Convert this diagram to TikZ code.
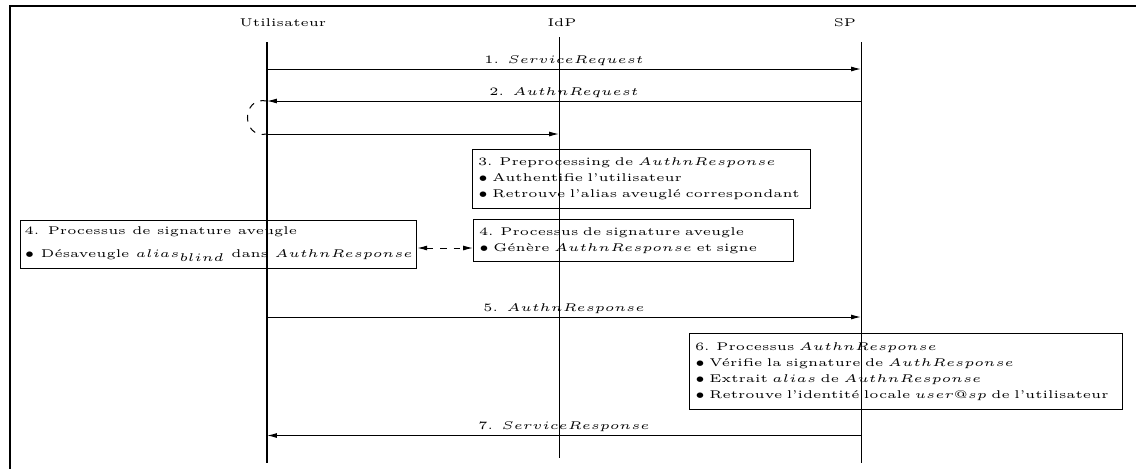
\documentclass[tikz,border=0pt]{standalone}
\usetikzlibrary{arrows.meta}
\def\pxu{0.444pt}
\def\wide{1.2}
\begin{document}
\begin{tikzpicture}[x=0.444pt,y=-0.444pt,
  txt/.style={font=\fontsize{5}{7.2}\selectfont,xscale=\wide},
  lifeline/.style={line width=0.45pt},
  msg/.style={line width=0.45pt,-{Latex[length=4.4pt,width=2.2pt]}},
  msglabel/.style={txt,anchor=base,inner sep=0pt,yshift=2.5pt},
  actor/.style={txt,anchor=base,inner sep=0pt},
  boxbase/.style={txt,draw,line width=0.45pt,anchor=north west,align=left,
    inner xsep=2pt,inner ysep=0pt},
  stepbox/.style={boxbase,
    text width={#1*\pxu/\wide-4pt},minimum width={#1*\pxu/\wide}}
]
\useasboundingbox (0,0) rectangle (1136,468);
% outer frame
\draw[line width=0.8pt] (10,480) -- (10,6) -- (1150,6);

% participants
\node[actor] (user) at (283,26.5) {Utilisateur};
\node[actor] (idp)  at (562,26.5) {IdP};
\node[actor] (sp)   at (845,26.5) {SP};

% lifelines
\coordinate (utop) at (267,42);  \coordinate (ubot) at (267,463);
\coordinate (itop) at (559,37);  \coordinate (ibot) at (559,458);
\coordinate (stop) at (861,42);  \coordinate (sbot) at (861,463);
\draw[lifeline] (utop) -- (ubot);
\draw[lifeline] (itop) -- (ibot);
\draw[lifeline] (stop) -- (sbot);

% message anchors
\coordinate (u1) at (267,69);   \coordinate (s1) at (861,69);
\coordinate (u2) at (267,101);  \coordinate (s2) at (861,101);
\coordinate (u3) at (267,134);  \coordinate (i3) at (559,134);
\coordinate (u5) at (267,317);  \coordinate (s5) at (861,317);
\coordinate (u7) at (267,435.5);\coordinate (s7) at (861,435.5);
\coordinate (d4) at (444,248);

% messages
\draw[msg] (u1) -- node[msglabel] {1. $ServiceRequest$} (s1);
\draw[msg] (s2) -- node[msglabel] {2. $AuthnRequest$} (u2);
\draw[lifeline,dashed] (u2) .. controls (241,96) and (241,139) .. (u3);
\draw[msg] (u3) -- (i3);
\draw[msg] (u5) -- node[msglabel] {5. $AuthnResponse$} (s5);
\draw[msg] (s7) -- node[msglabel] {7. $ServiceResponse$} (u7);

% processing steps
\node[stepbox=338,minimum height=59*\pxu] (pre) at (472,149)
  {3. Preprocessing de $AuthnResponse$\\
   $\bullet$ Authentifie l'utilisateur\\
   $\bullet$ Retrouve l'alias aveuglé correspondant};
\node[stepbox=320,minimum height=42*\pxu] (signidp) at (473,219)
  {4. Processus de signature aveugle\\
   $\bullet$ Génère $AuthnResponse$ et signe};
\node[boxbase,inner xsep=1.5pt,minimum width={395*\pxu/\wide},minimum height=48*\pxu] (signuser) at (20,220)
  {4. Processus de signature aveugle\\[3pt]
   $\bullet$ Désaveugle $alias_{blind}$ dans $AuthnResponse$};
\node[stepbox=433,minimum height=76*\pxu] (check) at (689,333)
  {6. Processus $AuthnResponse$\\
   $\bullet$ Vérifie la signature de $AuthResponse$\\
   $\bullet$ Extrait $alias$ de $AuthnResponse$\\
   $\bullet$ Retrouve l'identité locale $user@sp$ de l'utilisateur};

% blind signature exchange
\draw[lifeline,dashed,{Latex[length=4.4pt,width=2.2pt]}-{Latex[length=4.4pt,width=2.2pt]}]
  (signuser.east |- d4) -- (signidp.west |- d4);
\end{tikzpicture}
\end{document}
